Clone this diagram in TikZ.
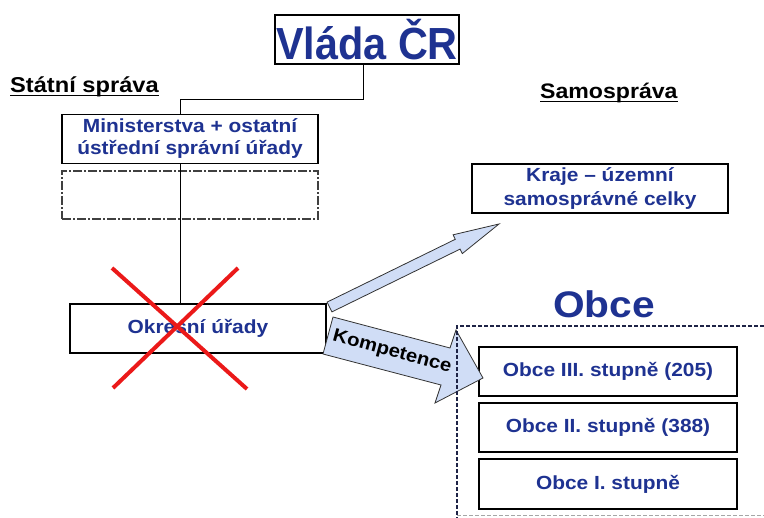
\documentclass[tikz,border=0pt]{standalone}
\usepackage{fontspec}
\setmainfont{Liberation Sans}[FakeStretch=1.1]
\newfontfamily\vladafont{Liberation Sans}[FakeStretch=0.92]
\usetikzlibrary{calc}
\definecolor{txtblue}{RGB}{30,50,145}
\definecolor{arrfill}{RGB}{208,221,246}
\definecolor{xred}{RGB}{235,25,25}
\definecolor{dashnavy}{RGB}{30,35,70}
\begin{document}
\begin{tikzpicture}[x=1pt,y=-1pt,
  box/.style={draw=black, line width=1.1pt, fill=white, inner sep=0pt,
    minimum width=256pt, minimum height=49pt, text=txtblue,
    font={\fontsize{19}{22}\selectfont\bfseries}, align=center},
  emptybox/.style={draw=black!75, line width=1.1pt, inner sep=0pt,
    minimum width=256pt, minimum height=48pt,
    dash pattern=on 9pt off 2pt on 2pt off 2pt},
  heading/.style={inner sep=0pt, text=black, font={\fontsize{21.5}{24}\selectfont\bfseries}},
  conn/.style={draw=black, line width=1pt},
  blockarrow/.style={draw=black!80, line width=0.8pt, fill=arrfill, line join=miter},
  crossline/.style={draw=xred, line width=4pt},
  regionline/.style={draw=dashnavy, line width=1.1pt, dash pattern=on 4pt off 2pt}
]
\useasboundingbox (0,0) rectangle (764,518);

% boxes
\node[box, minimum width=184pt, font={\vladafont\fontsize{45}{50}\selectfont\bfseries}] (vlada) at (367,39.5) {Vláda ČR};
\node[box] (min) at (190,139) {Ministerstva + ostatní\\ústřední správní úřady};
\node[emptybox] (empty) at (190,195) {};
\node[box] (okres) at (198,328.5) {Okresní úřady};
\node[box, font={\fontsize{19}{24}\selectfont\bfseries}] (kraje) at (600,188.5) {Kraje – územní\\samosprávné celky};
\node[box, minimum width=258pt] (o3) at (608,371.5) {Obce III. stupně (205)};
\node[box, minimum width=258pt] (o2) at (608,427.5) {Obce II. stupně (388)};
\node[box, minimum width=258pt, minimum height=50pt] (o1) at (608,484) {Obce I. stupně};

% headings
\node[heading, anchor=base west] (statni) at (10,93) {Státní správa};
\draw[line width=1.4pt] ([yshift=-2.8pt]statni.base west) -- ([yshift=-2.8pt]statni.base east);
\node[heading, anchor=base west, font={\fontsize{21}{24}\selectfont\bfseries}] (samo) at (540,99) {Samospráva~};
\draw[line width=1.4pt] ([yshift=-2.6pt]samo.base west) -- ([yshift=-2.6pt]samo.base east);
\node[inner sep=0pt, anchor=base, text=txtblue, font={\fontsize{37}{40}\selectfont\bfseries}] (obce) at (604,318) {Obce};

% connectors
\draw[conn] ([xshift=-4pt]vlada.south) -- ++(0,35) -| ([xshift=-10pt]min.north);
\draw[conn] ([xshift=-10pt]min.south) -- ([xshift=-10pt]min.south |- okres.north);

% block arrows
\draw[blockarrow] (327.1,302.1) -- (455.3,239.3) -- (453.1,234.8) -- (499,224)
  -- (462.3,253.6) -- (460.1,249.1) -- (331.9,311.9) -- cycle;
\draw[blockarrow] (333,317) -- (450,348) -- (456,330) -- (483,378)
  -- (435,403) -- (441,385) -- (323,354) -- cycle;
\node[inner sep=0pt, rotate=-15.3, text=black, font={\fontsize{18.5}{22}\selectfont\bfseries}] (komp) at (392,352) {Kompetence};

% Obce region
\draw[regionline] (764,326) -- (457,326) -- (457,518);
\draw[draw=black!35, line width=0.8pt, dash pattern=on 4pt off 2pt] (457,515.5) -- (764,515.5);

% red cross
\draw[crossline] (112,268) -- (247,389);
\draw[crossline] (238,268) -- (113,388);
\end{tikzpicture}
\end{document}
